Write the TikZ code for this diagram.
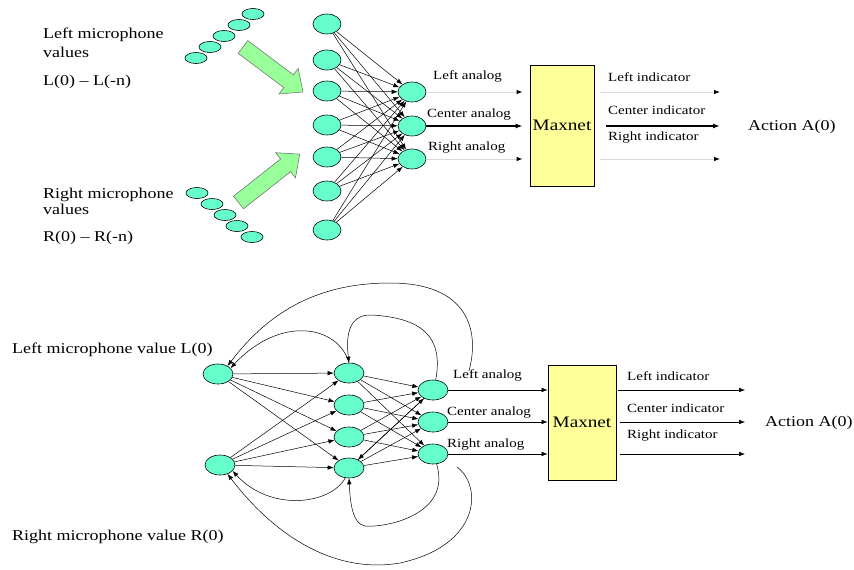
\documentclass[tikz,border=0pt]{standalone}
\usepackage{fontspec}
\setmainfont[FakeStretch=1.2]{Liberation Serif}
\usetikzlibrary{shapes.geometric,arrows.meta,calc}
\definecolor{neuronfill}{HTML}{66FFCC}
\definecolor{boxfill}{HTML}{FFFF99}
\definecolor{blockgreen}{HTML}{99FF99}

\begin{document}
\begin{tikzpicture}[x=1pt,y=-1pt,
  neuron/.style={ellipse,draw=black,line width=0.6pt,fill=neuronfill,
    minimum width=28pt,minimum height=20pt,inner sep=0pt},
  tapnode/.style={neuron,minimum width=22pt,minimum height=11pt},
  maxbox/.style={rectangle,draw=black,line width=0.8pt,fill=boxfill,
    inner sep=0pt,font=\fontsize{16}{18}\selectfont},
  tip/.style={-{Latex[length=6pt,width=4.5pt]}},
  wire/.style={draw=black,line width=0.5pt,tip},
  faintwire/.style={draw=black!15,line width=0.8pt,
    -{Latex[length=6pt,width=4.5pt,color=black]}},
  boldwire/.style={draw=black,line width=1.6pt,-{Latex[length=7pt,width=5pt]}},
  loopwire/.style={draw=black,line width=0.5pt,tip},
  lbl/.style={font=\fontsize{12.5}{14}\selectfont,inner sep=0pt,anchor=base west},
  big/.style={font=\fontsize{15}{18}\selectfont,inner sep=0pt,anchor=base west},
  block/.style={fill=blockgreen,draw=black!60,line width=0.5pt}
]
\useasboundingbox (0,0) rectangle (854,570);

% ---------------- upper network: time-delay inputs ----------------
\node[big] (tl1) at (43,38) {Left microphone};
\node[big] (tl2) at (43,57) {values};
\node[big] (tl3) at (43,85) {L(0) -- L(-n)};
\node[big] (tr1) at (43,198) {Right microphone};
\node[big] (tr2) at (43,214) {values};
\node[big] (tr3) at (43,241) {R(0) -- R(-n)};

\foreach \n/\x/\y in {0/253/14,1/239/25,2/224/36,3/210/47,4/196/58}
  \node[tapnode] (ltap\n) at (\x,\y) {};
\foreach \n/\x/\y in {0/197/193,1/212/204,2/225/215,3/237/226,4/252/237}
  \node[tapnode] (rtap\n) at (\x,\y) {};

% block arrows feeding the hidden layer
\draw[block] (247.8,40.6) -- (293.4,74.8) -- (298.2,68.4) -- (303,92)
  -- (279,94) -- (283.8,87.6) -- (238.2,53.4) -- cycle;
\draw[block] (233.5,196.2) -- (280.6,159.0) -- (275.7,152.7) -- (299.7,154.1)
  -- (295.5,177.9) -- (290.6,171.6) -- (243.5,208.8) -- cycle;

% hidden and output layers
\foreach \n/\y in {1/24,2/60,3/91,4/125,5/157,6/191,7/230}
  \node[neuron] (th\n) at (327,\y) {};
\foreach \n/\y in {1/92,2/126,3/159}
  \node[neuron] (to\n) at (412,\y) {};

\foreach \i in {1,...,7}
  \foreach \j in {1,2,3}
    \draw[wire] (th\i) -- (to\j);

\node[maxbox,minimum width=64pt,minimum height=121pt] (mx1) at (562,125.5) {Maxnet};

\draw[faintwire,shorten >=7pt] (to1) -- (to1 -| mx1.west);
\draw[boldwire,shorten >=7pt] (to2) -- (to2 -| mx1.west);
\draw[faintwire,shorten >=7pt] (to3) -- (to3 -| mx1.west);

\node[lbl] (tal) at (433,79) {Left analog};
\node[lbl] (tac) at (427,117) {Center analog};
\node[lbl] (tar) at (428,150) {Right analog};

\coordinate (tind1) at (720,92);
\coordinate (tind2) at (720,126);
\coordinate (tind3) at (720,159);
\draw[faintwire,shorten <=6pt] (mx1.east |- tind1) -- (tind1);
\draw[boldwire,shorten <=12pt] (mx1.east |- tind2) -- (tind2);
\draw[faintwire,shorten <=6pt] (mx1.east |- tind3) -- (tind3);

\node[lbl] (til) at (608,81) {Left indicator};
\node[lbl] (tic) at (608,114) {Center indicator};
\node[lbl] (tir) at (608,140) {Right indicator};
\node[big] (tact) at (748,130) {Action A(0)};

% ---------------- lower network: recurrent version ----------------
\node[big] (bl) at (12,353) {Left microphone value L(0)};
\node[big] (br) at (12,540) {Right microphone value R(0)};

\node[neuron,minimum width=30pt] (bin1) at (218,374) {};
\node[neuron,minimum width=30pt] (bin2) at (220,465) {};
\foreach \n/\y in {1/373,2/405,3/437,4/468}
  \node[neuron,minimum width=30pt] (bh\n) at (349,\y) {};
\foreach \n/\y in {1/390,2/422,3/454}
  \node[neuron,minimum width=30pt] (bo\n) at (433,\y) {};

\foreach \i in {1,2}
  \foreach \j in {1,...,4}
    \draw[wire] (bin\i) -- (bh\j);
\foreach \i in {1,...,4}
  \foreach \j in {1,2,3}
    \draw[wire] (bh\i) -- (bo\j);
\draw[wire] (bo1) -- (bh4);

% feedback loops
\coordinate (fbtop) at (469,371);
\coordinate (fbbot) at (457,467);
\draw[loopwire] (fbtop) .. controls (480,330) and (468,283) .. (390,283)
  .. controls (320,283) and (270,310) .. (bin1.40);
\draw[loopwire] (bo1.75) .. controls (444,335) and (420,318) .. (372,315)
  .. controls (352,314) and (345,330) .. (bh1.north);
\draw[loopwire] (bh1.north) .. controls (338,325) and (280,315) .. (bin1.25);
\draw[loopwire] (bo3.-70) .. controls (452,515) and (385,528) .. (365,526)
  .. controls (352,524) and (350,500) .. (bh4.south);
\draw[loopwire] (bh4.-110) .. controls (330,505) and (270,512) .. (bin2.-25);
\draw[loopwire] (fbbot) .. controls (482,485) and (482,545) .. (400,563)
  .. controls (330,575) and (270,530) .. (bin2.-50);

\node[maxbox,minimum width=68pt,minimum height=115pt] (mx2) at (582,422.5) {Maxnet};

\draw[wire] (bo1) -- (bo1 -| mx2.west);
\draw[wire] (bo2) -- (bo2 -| mx2.west);
\draw[wire] (bo3) -- (bo3 -| mx2.west);

\node[lbl] (bal) at (453,378) {Left analog};
\node[lbl] (bac) at (447,415) {Center analog};
\node[lbl] (bar) at (447,447) {Right analog};

\coordinate (bind1) at (745,390);
\coordinate (bind2) at (745,422);
\coordinate (bind3) at (745,454);
\draw[wire,shorten <=2pt] (mx2.east |- bind1) -- (bind1);
\draw[wire,shorten <=4pt] (mx2.east |- bind2) -- (bind2);
\draw[wire,shorten <=4pt] (mx2.east |- bind3) -- (bind3);

\node[lbl] (bil) at (627,380) {Left indicator};
\node[lbl] (bic) at (627,412) {Center indicator};
\node[lbl] (bir) at (627,438) {Right indicator};
\node[big] (bact) at (765,426) {Action A(0)};
\end{tikzpicture}
\end{document}
